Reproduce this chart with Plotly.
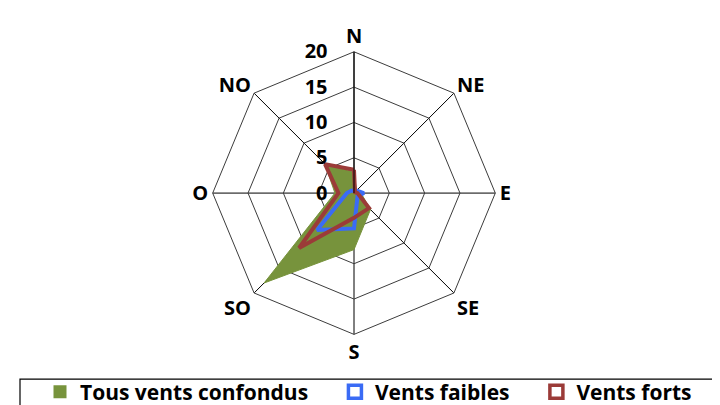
import plotly.graph_objects as go

directions = ["N", "NE", "E", "SE", "S", "SO", "O", "NO"]
tous_vents = [3.0, 0.5, 1.0, 3.3, 8.0, 18.0, 2.7, 5.8]
vents_faibles = [0.3, 0.5, 1.4, 0.7, 5.0, 7.4, 1.0, 0.5]
vents_forts = [3.3, 0.2, 0.5, 3.0, 3.5, 11.0, 2.2, 5.8]
radial_ticks = [0, 5, 10, 15, 20]

GREEN = "#77933C"
BLUE = "#3A6BF5"
RED = "#9B3B38"
FONT = dict(family="Open Sans, Lato, sans-serif", size=20, color="black", weight="bold")
LEG_FONT = dict(family="Open Sans, Lato, sans-serif", size=21, color="black", weight="bold")


def closed(seq):
    return list(seq) + [seq[0]]


fig = go.Figure()
fig.add_trace(go.Scatterpolar(
    r=closed(tous_vents), theta=closed(directions), mode="lines",
    fill="toself", fillcolor=GREEN, line=dict(color=GREEN, width=1),
    showlegend=False, hoverinfo="skip"))
fig.add_trace(go.Scatterpolar(
    r=closed(vents_faibles), theta=closed(directions), mode="lines",
    line=dict(color=BLUE, width=4), showlegend=False, hoverinfo="skip"))
fig.add_trace(go.Scatterpolar(
    r=closed(vents_forts), theta=closed(directions), mode="lines",
    line=dict(color=RED, width=4), showlegend=False, hoverinfo="skip"))

# legend entries
nb = "\u00a0"
fig.add_trace(go.Scatterpolar(r=[None], theta=[directions[0]], mode="markers",
    name="Tous vents confondus" + nb * 4,
    marker=dict(symbol="square", size=13, color=GREEN)))
fig.add_trace(go.Scatterpolar(r=[None], theta=[directions[0]], mode="markers",
    name="Vents faibles" + nb * 4,
    marker=dict(symbol="square", size=13, color="white", line=dict(color=BLUE, width=3.5))))
fig.add_trace(go.Scatterpolar(r=[None], theta=[directions[0]], mode="markers",
    name="Vents forts",
    marker=dict(symbol="square", size=13, color="white", line=dict(color=RED, width=3.5))))

cx, cy, rad = 346, 186, 142
W, H = 720, 405
fig.update_layout(
    width=W, height=H,
    margin=dict(l=0, r=0, t=0, b=0),
    paper_bgcolor="white", plot_bgcolor="white",
    font=FONT,
    polar=dict(
        domain=dict(x=[(cx - rad) / W, (cx + rad) / W],
                    y=[(H - cy - rad) / H, (H - cy + rad) / H]),
        gridshape="linear",
        bgcolor="white",
        radialaxis=dict(range=[0, 20], tickvals=radial_ticks, angle=90,
                        side="counterclockwise", tickangle=90,
                        showline=True, linecolor="black", linewidth=1,
                        gridcolor="#3c3c3c", gridwidth=1,
                        ticks="outside", ticklen=19, tickcolor="rgba(0,0,0,0)",
                        tickfont=FONT),
        angularaxis=dict(categoryorder="array", categoryarray=directions,
                         rotation=90, direction="clockwise",
                         showline=True, linecolor="#3c3c3c", linewidth=1,
                         gridcolor="black", gridwidth=1,
                         ticks="", tickfont=FONT),
    ),
    legend=dict(orientation="h", x=32 / W, xanchor="left",
                y=(H - 386) / H, yanchor="middle",
                font=LEG_FONT, bgcolor="rgba(0,0,0,0)", itemclick=False),
    shapes=[dict(type="rect", xref="paper", yref="paper",
                 x0=12 / W, x1=1.02, y0=-0.05, y1=(H - 373) / H,
                 line=dict(color="black", width=1.2), fillcolor="rgba(0,0,0,0)")],
)

fig.write_html("out.html")
